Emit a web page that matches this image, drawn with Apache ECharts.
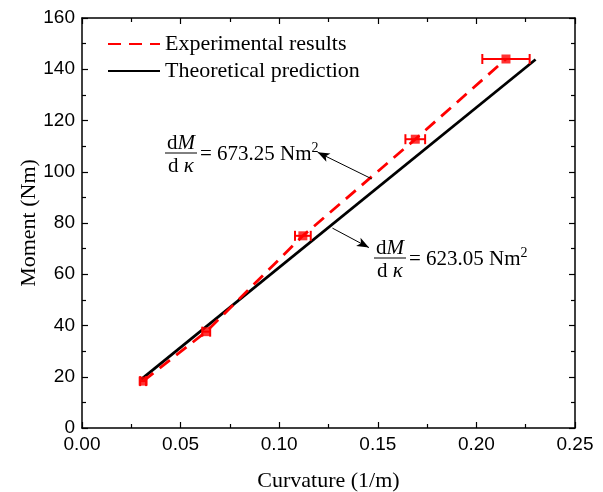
<!DOCTYPE html>
<html>
<head>
<meta charset="utf-8">
<script src="https://cdn.jsdelivr.net/npm/echarts@6/dist/echarts.min.js"></script>
<style>
  html, body { margin: 0; padding: 0; background: #fff; }
  #chart { width: 603px; height: 492px; }
</style>
</head>
<body>
<div id="chart"></div>
<script>
// 实验数据 (curvature 1/m, moment Nm)
var expCurv = [0.031, 0.063, 0.112, 0.169, 0.215];
var expMoment = [18.3, 37.6, 75.0, 112.7, 144.0];
var expCurvErr = [0.0015, 0.002, 0.004, 0.005, 0.012];

// 理论预测直线
var theoCurv = [0.030, 0.230];
var theoMoment = [19.0, 143.8];

var serif = '"Liberation Serif", "DejaVu Serif", serif';
var sans = '"Liberation Sans", Arial, sans-serif';

var expData = expCurv.map(function (x, i) { return [x, expMoment[i]]; });
var theoData = theoCurv.map(function (x, i) { return [x, theoMoment[i]]; });
var errData = expCurv.map(function (x, i) { return [x - expCurvErr[i], x + expCurvErr[i], expMoment[i]]; });

var myChart = echarts.init(document.getElementById('chart'));

function axisX(pos, showLabel) {
    return {
        type: 'value',
        position: pos,
        min: 0,
        max: 0.25,
        interval: 0.05,
        axisLine: { show: true, onZero: false, lineStyle: { color: '#000', width: 1.5 } },
        axisTick: { show: true, inside: true, length: 6, lineStyle: { color: '#000', width: 1.2 } },
        minorTick: { show: true, splitNumber: 2, length: 4, lineStyle: { color: '#000', width: 1.2 } },
        splitLine: { show: false },
        axisLabel: {
            show: showLabel, color: '#000', fontFamily: sans, fontSize: 19, margin: 7,
            formatter: function (v) { return v.toFixed(2); }
        },
        name: showLabel ? 'Curvature (1/m)' : '',
        nameLocation: 'middle',
        nameGap: 42,
        nameMoveOverlap: false,
        nameTextStyle: { fontFamily: serif, fontSize: 22, color: '#000' }
    };
}

function axisY(pos, showLabel) {
    return {
        type: 'value',
        position: pos,
        min: 0,
        max: 160,
        interval: 20,
        axisLine: { show: true, onZero: false, lineStyle: { color: '#000', width: 1.5 } },
        axisTick: { show: true, inside: true, length: 6, lineStyle: { color: '#000', width: 1.2 } },
        minorTick: { show: true, splitNumber: 2, length: 4, lineStyle: { color: '#000', width: 1.2 } },
        splitLine: { show: false },
        axisLabel: { show: showLabel, color: '#000', fontFamily: sans, fontSize: 19, margin: 7 },
        name: showLabel ? 'Moment (Nm)' : '',
        nameLocation: 'middle',
        nameGap: 42,
        nameMoveOverlap: false,
        nameTextStyle: { fontFamily: serif, fontSize: 22, color: '#000' }
    };
}

var fracRich = {
    d: { fontFamily: serif, fontSize: 21, color: '#000' },
    i: { fontFamily: serif, fontSize: 21, fontStyle: 'italic', color: '#000' }
};
var eqRich = {
    t: { fontFamily: serif, fontSize: 21, color: '#000' },
    s: { fontFamily: serif, fontSize: 14, color: '#000', padding: [0, 0, 12, 0] }
};

function fraction(cx, barY, barW, eqText) {
    return {
        type: 'group',
        children: [
            { type: 'text', style: { x: cx, y: barY + 1, text: '{d|d}{i|M}', rich: fracRich, align: 'center', verticalAlign: 'bottom' } },
            { type: 'line', shape: { x1: cx - barW / 2, y1: barY, x2: cx + barW / 2, y2: barY }, style: { stroke: '#000', lineWidth: 1 } },
            { type: 'text', style: { x: cx, y: barY + 3, text: '{d|d }{i|κ}', rich: fracRich, align: 'center', verticalAlign: 'top' } },
            { type: 'text', style: { x: cx + barW / 2 + 3, y: barY + 1, text: '{t|= ' + eqText + ' Nm}{s|2}', rich: eqRich, align: 'left', verticalAlign: 'middle' } }
        ]
    };
}

var option = {
    backgroundColor: '#fff',
    animation: false,
    grid: { left: 82, right: 28, top: 18, bottom: 64, containLabel: false, outerBoundsMode: 'none' },
    legend: {
        orient: 'vertical',
        left: 102,
        top: 28,
        itemWidth: 52,
        itemHeight: 14,
        itemGap: 5,
        data: ['Experimental results', 'Theoretical prediction'],
        itemStyle: { opacity: 0 },
        textStyle: { fontFamily: serif, fontSize: 22, color: '#000' }
    },
    xAxis: [axisX('bottom', true), axisX('top', false)],
    yAxis: [axisY('left', true), axisY('right', false)],
    graphic: [
        fraction(181, 153, 32, '673.25'),
        fraction(390, 258, 32, '623.05')
    ],
    series: [
        {
            name: 'Theoretical prediction',
            type: 'line',
            data: theoData,
            symbol: 'none',
            lineStyle: { color: '#000', width: 2.8 },
            itemStyle: { color: '#000' },
            z: 2
        },
        {
            name: 'Experimental results',
            type: 'line',
            data: expData,
            symbol: 'none',
            lineStyle: { color: '#ff0000', width: 2.8, type: [13, 8] },
            itemStyle: { color: '#ff0000' },
            z: 3,
            markLine: {
                silent: true,
                symbolSize: [7, 12],
                label: { show: false },
                lineStyle: { color: '#000', width: 1, type: 'solid' },
                data: [
                    [{ coord: [0.147, 97.2], symbol: 'none' }, { coord: [0.1195, 107.6], symbol: 'arrow' }],
                    [{ coord: [0.127, 78.0], symbol: 'none' }, { coord: [0.1455, 70.4], symbol: 'arrow' }]
                ]
            }
        },
        {
            name: 'errbar',
            type: 'custom',
            data: errData,
            z: 4,
            renderItem: function (params, api) {
                var y = api.value(2);
                var p1 = api.coord([api.value(0), y]);
                var p2 = api.coord([api.value(1), y]);
                var h = 5;
                var st = { stroke: '#ff0000', lineWidth: 2 };
                return {
                    type: 'group',
                    children: [
                        { type: 'line', shape: { x1: p1[0], y1: p1[1], x2: p2[0], y2: p2[1] }, style: st },
                        { type: 'line', shape: { x1: p1[0], y1: p1[1] - h, x2: p1[0], y2: p1[1] + h }, style: st },
                        { type: 'line', shape: { x1: p2[0], y1: p2[1] - h, x2: p2[0], y2: p2[1] + h }, style: st }
                    ]
                };
            }
        },
        {
            name: 'points',
            type: 'scatter',
            data: expData,
            symbol: 'rect',
            symbolSize: 9,
            itemStyle: { color: '#ff0000' },
            z: 5
        }
    ]
};

myChart.setOption(option);
</script>
</body>
</html>
